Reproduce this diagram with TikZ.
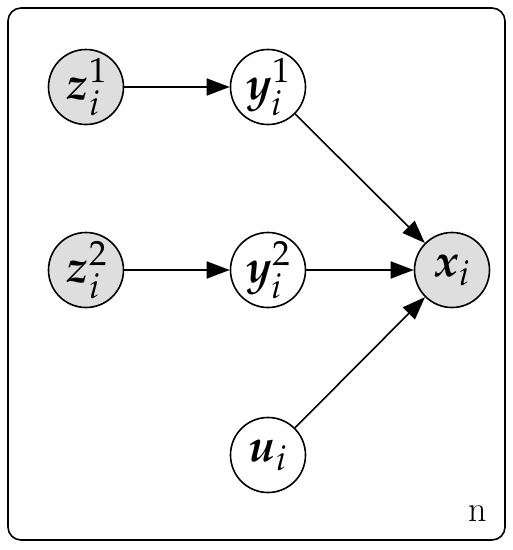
\documentclass[tikz,border=0pt]{standalone}
\usepackage{mathpazo}
\usepackage{bm}
\usetikzlibrary{arrows.meta}
\begin{document}
\begin{tikzpicture}[x=1pt,y=-1pt,
  var/.style={circle,draw,line width=1.6pt,minimum size=75pt,inner sep=0pt,font=\fontsize{46}{48}\selectfont},
  obs/.style={var,fill=black!13},
  edge/.style={line width=1.6pt,-{Triangle[length=23pt,width=17pt]}}]
\useasboundingbox (0,0) rectangle (513,550);
\draw[line width=1.6pt,rounded corners=13pt] (8,8) rectangle (505,540);
\node[obs] (z1) at (86,87) {$\bm{z}_{i}^{1}$};
\node[var] (y1) at (268,87) {$\bm{y}_{i}^{1}$};
\node[obs] (z2) at (86,270) {$\bm{z}_{i}^{2}$};
\node[var] (y2) at (268,270) {$\bm{y}_{i}^{2}$};
\node[obs] (x) at (452,270) {$\bm{x}_{i}$};
\node[var] (u) at (268,455) {$\bm{u}_{i}$};
\node[font=\fontsize{36}{38}\selectfont] (n) at (478,514) {n};
\draw[edge] (z1) -- (y1);
\draw[edge] (z2) -- (y2);
\draw[edge] (y1) -- (x);
\draw[edge] (y2) -- (x);
\draw[edge] (u) -- (x);
\end{tikzpicture}
\end{document}
